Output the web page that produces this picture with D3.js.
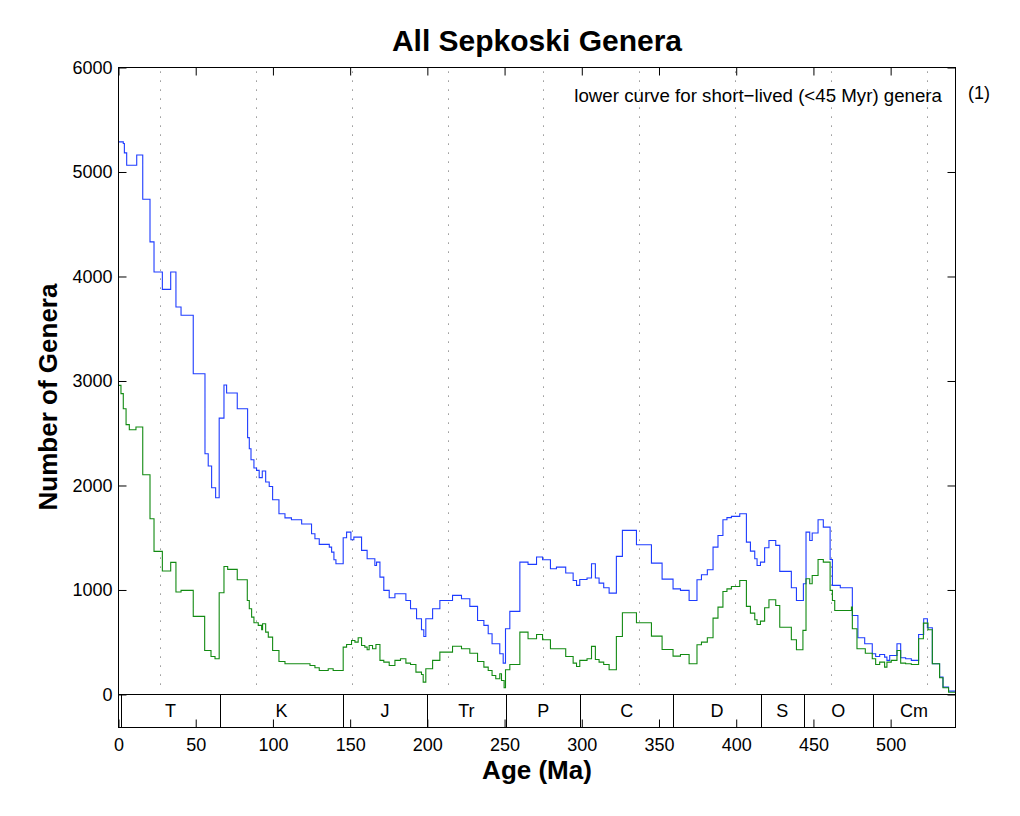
<!DOCTYPE html>
<html><head><meta charset="utf-8">
<script src="https://cdn.jsdelivr.net/npm/d3@7/dist/d3.min.js"></script>
<style>body{margin:0;background:#fff}svg{display:block}text{font-family:"Liberation Sans",Arial,Helvetica,sans-serif}</style>
</head><body>
<svg id="chart" width="1020" height="816"></svg>
<script>
// ---- Data (ages in Ma, step starts) ----
const allAges = [0,3.1,3.8,5.3,11.8,15.7,20.4,23.0,28.4,33.8,37.2,40.5,48.4,56.0,58.1,60.3,62.9,65.2,68.3,70.0,76.9,83.6,84.7,85.8,87.7,89.4,91.1,93.1,95.3,97.6,99.8,103.9,107.8,112.0,118.6,125.0,127.2,130.0,136.5,138.0,139.5,140.8,145.5,147.7,150.5,152.4,157.4,161.0,166.0,167.1,169.3,171.8,175.3,179.0,186.1,189.1,193.0,196.2,197.7,199.0,203.4,208.1,216.3,222.1,227.5,232.5,236.6,239.4,241.9,246.9,249.1,250.6,253.4,259.9,265.2,270.7,274.6,279.7,283.6,289.6,294.4,296.6,298.7,303.4,306.3,308.8,311.2,314.2,317.7,322.4,326.3,335.4,345.1,352.0,359.1,363.9,369.5,374.6,377.5,381.3,385.0,388.2,391.4,394.0,396.9,402.3,406.6,409.2,412.0,413.5,415.7,418.4,421.2,425.6,428.2,435.7,439.0,443.5,445.2,447.6,449.2,453.0,456.4,460.8,462.3,467.4,475.2,478.8,483.2,488.1,490.3,492.9,496.1,497.6,499.4,504.1,506.5,509.7,513.4,518.1,521.4,523.8,527.0,531.7,533.9,537.5];
const allGenera = [5288,5272,5183,5065,5163,4739,4331,4043,3877,4043,3708,3629,3070,2304,2186,1979,1883,2645,2961,2885,2735,2458,2352,2247,2167,2145,2075,2138,2033,1991,1864,1730,1690,1672,1631,1538,1490,1436,1410,1362,1289,1251,1500,1554,1481,1506,1379,1299,1235,1267,1123,996,925,964,900,820,724,619,555,724,820,900,948,916,843,708,661,581,485,390,300,629,795,1267,1245,1315,1289,1203,1219,1162,1091,1044,1101,1114,1251,1114,1066,1021,970,1322,1570,1433,1257,1104,1011,996,900,1098,1146,1194,1410,1522,1672,1692,1704,1730,1458,1372,1299,1235,1267,1404,1474,1427,1178,1021,900,1060,1554,1474,1545,1672,1602,1292,1044,1021,756,543,485,390,364,383,357,326,373,485,351,342,326,574,724,638,294,166,70,32];

const shortAges = [0,1.6,3.1,4.9,7.0,11.3,15.7,20.4,23.0,28.4,33.8,37.2,40.5,48.4,55.8,59.9,62.5,65.2,68.3,70.7,76.9,83.4,84.7,86.2,87.7,90.5,92.7,93.3,95.3,97.0,99.8,103.9,107.8,124.0,127.2,130.0,135.8,139.0,145.5,147.7,150.9,153.1,155.2,157.4,159.5,161.0,162.3,164.5,166.7,169.3,171.8,175.3,179.0,182.6,186.1,189.1,192.6,196.2,197.3,199.0,203.4,208.1,216.3,222.1,227.5,232.5,236.6,239.4,241.9,244.3,246.9,248.0,249.7,250.6,253.4,259.9,265.2,270.7,274.6,279.7,289.6,294.4,296.6,298.7,303.4,306.3,308.8,311.2,314.2,317.7,322.4,326.3,335.4,345.1,352.0,359.1,363.9,369.5,374.6,377.5,381.3,385.0,388.2,391.4,394.0,396.9,402.3,406.6,409.2,412.0,413.5,415.7,418.4,421.2,425.6,428.2,435.7,439.0,443.2,445.2,447.6,449.2,453.0,456.4,460.8,462.3,463.8,474.6,475.2,478.2,483.6,488.1,490.3,492.9,496.1,497.6,500.4,504.1,506.5,509.7,513.4,518.1,521.2,524.2,527.0,531.7,533.9,537.5];
const shortGenera = [2958,2879,2735,2582,2534,2559,2103,1682,1369,1181,1264,980,996,747,421,364,342,973,1225,1197,1098,900,820,740,686,661,619,677,597,549,421,316,294,278,256,230,246,230,453,479,517,501,543,469,453,428,469,437,479,326,310,278,326,342,300,287,214,191,118,246,326,405,462,437,395,316,262,230,182,150,198,134,64,236,287,597,533,574,524,437,364,300,268,326,342,460,335,310,287,236,555,782,686,558,431,367,383,294,476,501,543,731,836,986,1011,1034,1091,843,779,715,670,702,830,907,852,644,524,428,613,1108,1060,1139,1292,1267,996,900,804,836,629,437,395,342,287,310,262,310,326,421,300,294,287,533,683,619,294,160,64,22];

const periodNames = ["T","K","J","Tr","P","C","D","S","O","Cm"];
const periodBounds = [1.8,65.5,145.5,199.6,251.0,299.0,359.2,416.0,443.7,488.3,542];
const cycleLines = [26.9,89.0,151.0,213.1,275.1,337.2,399.2,461.3,523.3];
const xTicks = [0,50,100,150,200,250,300,350,400,450,500];
const yTicks = [0,1000,2000,3000,4000,5000,6000];
const maxAge = 542;

// ---- Layout ----
const svg = d3.select("#chart");
const L = 118.5, R = 955.5, T = 67.5, B = 727.5;
const x = d3.scaleLinear().domain([0, maxAge]).range([L, R]);
const y = d3.scaleLinear().domain([-316, 6000]).range([B, T]);
const y0 = Math.round(y(0)) + 0.5;

// dotted cycle lines
svg.append("g").selectAll("line").data(cycleLines).join("line")
  .attr("x1", d => Math.round(x(d)) + 0.5).attr("x2", d => Math.round(x(d)) + 0.5)
  .attr("y1", T + 4).attr("y2", y0 - 2)
  .attr("stroke", "#777").attr("stroke-width", 1).attr("stroke-dasharray", "1.2,7.8");

// curves
function stepData(ages, vals) {
  const pts = ages.map((a, i) => [a, vals[i]]);
  pts.push([maxAge, vals[vals.length - 1]]);
  return pts;
}
const line = d3.line().x(d => x(d[0])).y(d => y(d[1])).curve(d3.curveStepAfter);
svg.append("path").datum(stepData(allAges, allGenera))
  .attr("d", line).attr("fill", "none").attr("stroke", "#1e3cff").attr("stroke-width", 1.1);
svg.append("path").datum(stepData(shortAges, shortGenera))
  .attr("d", line).attr("fill", "none").attr("stroke", "#128a12").attr("stroke-width", 1.1);

// zero line / period band
svg.append("line").attr("x1", L).attr("x2", R).attr("y1", y0).attr("y2", y0)
  .attr("stroke", "#000").attr("stroke-width", 1);
svg.append("g").selectAll("line").data(periodBounds.slice(0, -1)).join("line")
  .attr("x1", d => Math.round(x(d)) + 0.5).attr("x2", d => Math.round(x(d)) + 0.5)
  .attr("y1", y0).attr("y2", B).attr("stroke", "#000").attr("stroke-width", 1);
svg.append("g").selectAll("text").data(periodNames).join("text")
  .attr("x", (d, i) => x((periodBounds[i] + periodBounds[i + 1]) / 2))
  .attr("y", 717).attr("text-anchor", "middle").attr("font-size", 18).text(d => d);

// axes (inward ticks on all sides)
const tk = 8;
const axB = d3.axisBottom(x).tickValues(xTicks).tickSize(-tk).tickPadding(11).tickFormat(d3.format("d"));
const axT = d3.axisTop(x).tickValues(xTicks).tickSize(-tk).tickFormat("");
const axL = d3.axisLeft(y).tickValues(yTicks).tickSize(-tk).tickPadding(6).tickFormat(d3.format("d"));
const axR = d3.axisRight(y).tickValues(yTicks).tickSize(-tk).tickFormat("");
function styleAxis(g) {
  g.select(".domain").remove();
  g.selectAll(".tick line").attr("stroke", "#000");
  g.selectAll("text").attr("font-size", 18).attr("fill", "#000")
   .style("font-family", '"Liberation Sans",Arial,sans-serif');
}
svg.append("g").attr("transform", `translate(0,${B})`).call(axB).call(styleAxis);
svg.append("g").attr("transform", `translate(0,${T})`).call(axT).call(styleAxis);
svg.append("g").attr("transform", `translate(${L},0)`).call(axL).call(styleAxis);
svg.append("g").attr("transform", `translate(${R},0)`).call(axR).call(styleAxis);
svg.append("rect").attr("x", L).attr("y", T).attr("width", R - L).attr("height", B - T)
  .attr("fill", "none").attr("stroke", "#000").attr("stroke-width", 1);

// texts
svg.append("text").attr("x", (L + R) / 2).attr("y", 51).attr("text-anchor", "middle")
  .attr("font-size", 30).attr("font-weight", "bold").text("All Sepkoski Genera");
svg.append("text").attr("x", (L + R) / 2).attr("y", 779).attr("text-anchor", "middle")
  .attr("font-size", 26).attr("font-weight", "bold").text("Age (Ma)");
svg.append("text").attr("transform", `translate(57,${(T + y0) / 2 + 16}) rotate(-90)`)
  .attr("text-anchor", "middle").attr("font-size", 26).attr("font-weight", "bold").text("Number of Genera");
svg.append("text").attr("x", 942).attr("y", 102).attr("text-anchor", "end")
  .attr("font-size", 18.7).text("lower curve for short\u2212lived (<45 Myr) genera");
svg.append("text").attr("x", 968).attr("y", 99).attr("font-size", 18).text("(1)");
</script>
</body></html>
